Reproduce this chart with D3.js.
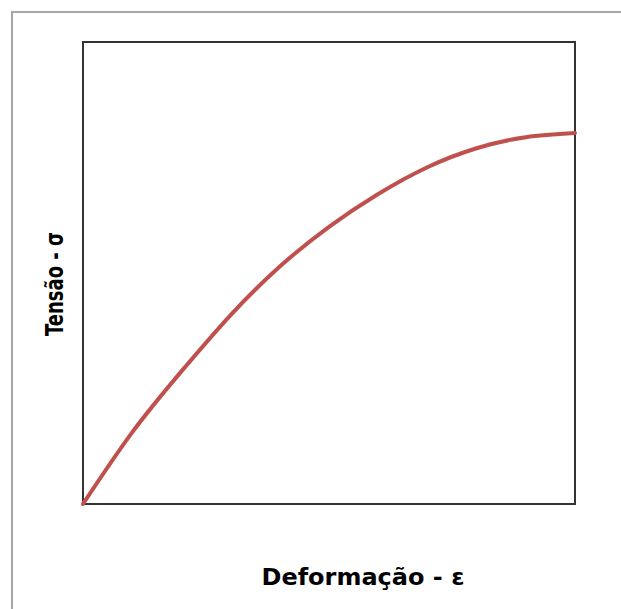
<!DOCTYPE html>
<meta charset="utf-8">
<style>
html, body { margin: 0; background: #fff; overflow: hidden; }
svg { display: block; }
.frame { fill: none; stroke: #333; stroke-width: 2; }
.outer { fill: none; stroke: #a6a6a6; stroke-width: 2; }
.curve { fill: none; stroke: #c0504d; stroke-width: 4; stroke-linecap: round; }
.label { font-family: "DejaVu Sans", Verdana, sans-serif; font-weight: bold; fill: #000; }
</style>
<body>
<script src="https://cdn.jsdelivr.net/npm/d3@7"></script>
<script>

// strain (deformação) and stress (tensão)
var strain = [0, 1, 2, 3, 4, 5, 6, 7, 8, 9, 10];
var stress = [0, 15.5, 28.7, 40.9, 51.4, 60.0, 67.1, 72.9, 77.0, 79.4, 80.3];

var xLabel = "Deformação - ε",
    yLabel = "Tensão - σ";

var W = 621, H = 609;
var margin = {top: 42, right: 46, bottom: 105, left: 83},
    width = W - margin.left - margin.right,
    height = H - margin.top - margin.bottom;

var svg = d3.select("body").append("svg")
    .attr("width", W)
    .attr("height", H);

svg.append("rect")
    .attr("class", "outer")
    .attr("x", 12).attr("y", 12)
    .attr("width", 800).attr("height", 800);

var g = svg.append("g")
    .attr("transform", "translate(" + margin.left + "," + margin.top + ")");

var x = d3.scaleLinear().domain([0, 10]).range([0, width]);
var y = d3.scaleLinear().domain([0, 100]).range([height, 0]);

var data = strain.map(function(d, i) { return {e: d, s: stress[i]}; });

var line = d3.line()
    .x(function(d) { return x(d.e); })
    .y(function(d) { return y(d.s); })
    .curve(d3.curveNatural);

g.append("rect")
    .attr("class", "frame")
    .attr("width", width)
    .attr("height", height);

g.append("path")
    .datum(data)
    .attr("class", "curve")
    .attr("d", line);

svg.append("text")
    .attr("class", "label")
    .attr("x", 363)
    .attr("y", 585)
    .style("font-size", "23px")
    .style("text-anchor", "middle")
    .attr("textLength", 203)
    .attr("lengthAdjust", "spacingAndGlyphs")
    .text(xLabel);

svg.append("text")
    .attr("class", "label")
    .attr("transform", "translate(63,284) rotate(-90)")
    .style("font-size", "24px")
    .style("text-anchor", "middle")
    .attr("textLength", 104)
    .attr("lengthAdjust", "spacingAndGlyphs")
    .text(yLabel);

</script>
</body>
